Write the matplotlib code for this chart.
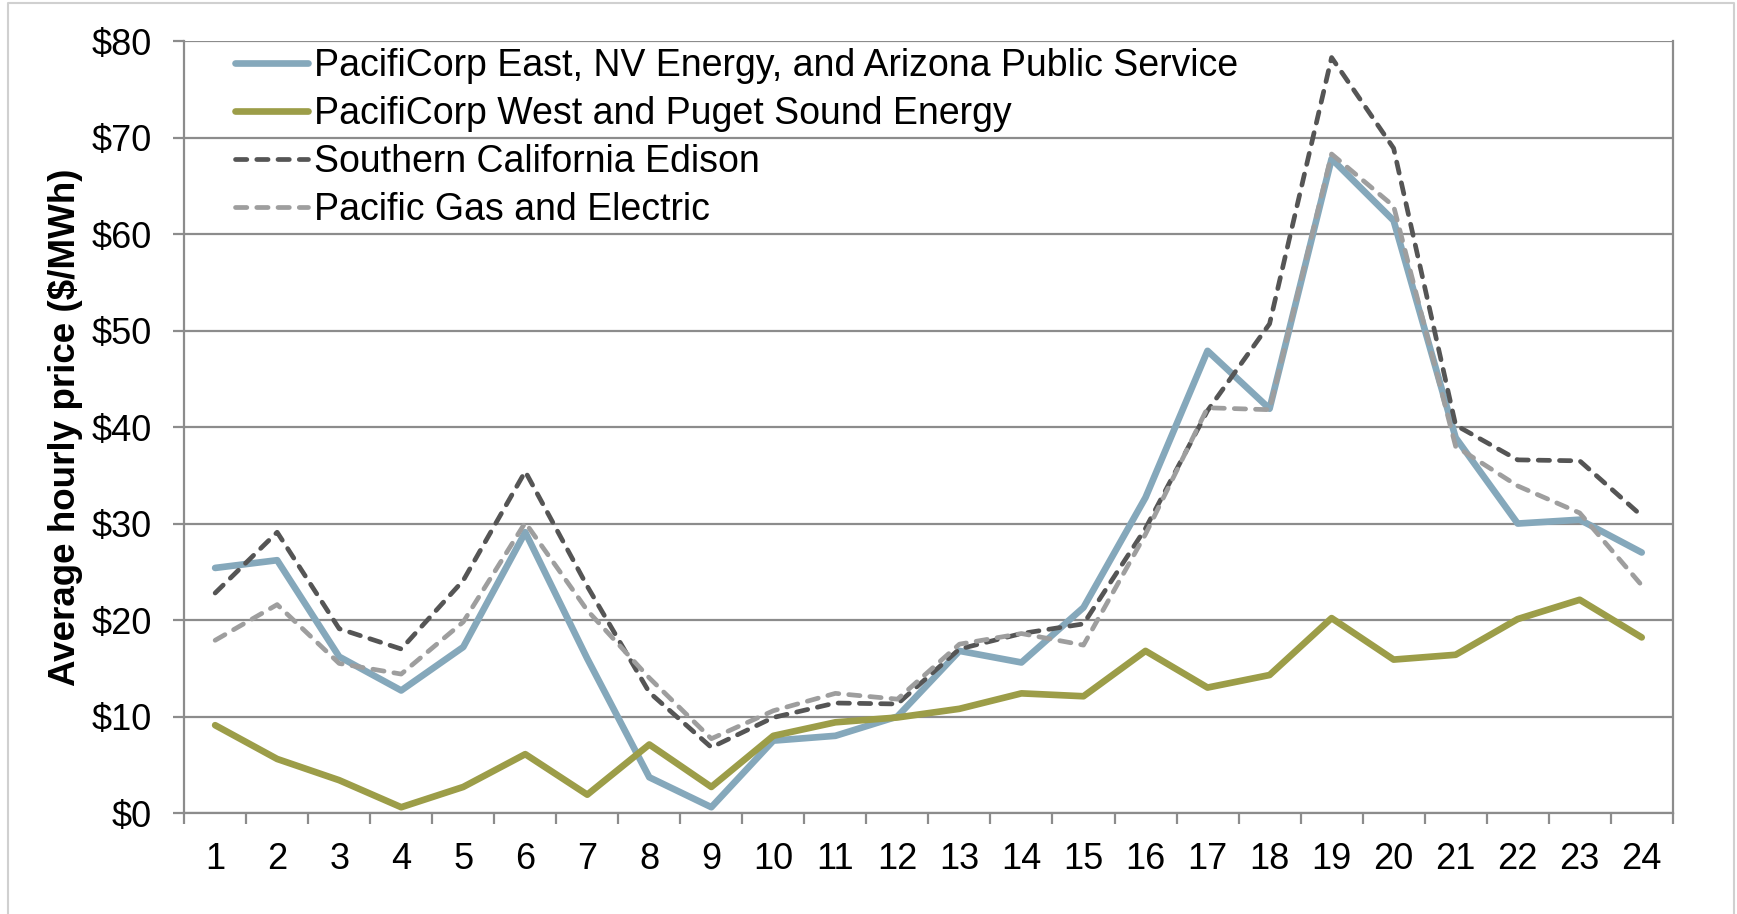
import matplotlib
matplotlib.use("Agg")
import matplotlib.pyplot as plt
from matplotlib.lines import Line2D

hours = list(range(1, 25))
pac_east = [25.4, 26.2, 16.2, 12.7, 17.2, 29.1, 16.0, 3.7, 0.6, 7.5, 8.0, 10.0,
            16.8, 15.6, 21.3, 32.7, 47.9, 41.9, 67.8, 61.4, 38.9, 30.0, 30.4, 27.0]
pac_west = [9.1, 5.6, 3.4, 0.6, 2.7, 6.1, 1.9, 7.1, 2.7, 8.0, 9.4, 9.9,
            10.8, 12.4, 12.1, 16.8, 13.0, 14.3, 20.2, 15.9, 16.4, 20.1, 22.1, 18.2]
sce = [22.8, 29.1, 19.1, 17.0, 24.1, 35.4, 23.5, 12.5, 6.8, 9.9, 11.4, 11.3,
       17.0, 18.6, 19.6, 29.5, 41.7, 50.7, 78.3, 68.9, 40.2, 36.6, 36.5, 30.8]
pge = [17.9, 21.6, 15.5, 14.4, 19.8, 30.1, 21.0, 14.0, 7.7, 10.6, 12.4, 11.8,
       17.5, 18.6, 17.4, 28.9, 42.0, 41.8, 68.3, 62.9, 38.0, 33.9, 31.1, 23.6]
labels = ["PacifiCorp East, NV Energy, and Arizona Public Service",
          "PacifiCorp West and Puget Sound Energy",
          "Southern California Edison",
          "Pacific Gas and Electric"]
yticks = [0, 10, 20, 30, 40, 50, 60, 70, 80]
ylabel = "Average hourly price ($/MWh)"

plt.rcParams['font.family'] = ['Liberation Sans', 'DejaVu Sans']

fig = plt.figure(figsize=(17.37, 9.14), dpi=100)
border_c = '#d0d0d0'
fig.add_artist(Line2D([0.0045, 0.0045, 0.9985, 0.9985], [0.0, 0.9965, 0.9965, 0.0],
                      transform=fig.transFigure, color=border_c, linewidth=1.5))
ax = fig.add_axes([0.106, 0.1105, 0.857, 0.8445])

grid_c = '#8c8c8c'
for v in yticks:
    ax.axhline(v, color=grid_c, linewidth=1.6, zorder=1)

ax.plot(hours, pac_east, color='#85a8bb', linewidth=4.8, label=labels[0],
        solid_capstyle='round', solid_joinstyle='round', zorder=3)
ax.plot(hours, pac_west, color='#9c9d48', linewidth=4.8, label=labels[1],
        solid_capstyle='round', solid_joinstyle='round', zorder=3)
ax.plot(hours, sce, color='#555555', linewidth=3.4, linestyle=(0, (2.4, 2.1)),
        label=labels[2], dash_capstyle='round', zorder=4)
ax.plot(hours, pge, color='#9e9e9e', linewidth=3.4, linestyle=(0, (2.4, 2.1)),
        label=labels[3], dash_capstyle='round', zorder=4)

ax.set_xlim(0.5, 24.5)
ax.set_ylim(0, 80)
ax.set_yticks(yticks)
ax.set_yticklabels([f"${v}" for v in yticks])
ax.set_xticks(hours)
ax.set_xticklabels([str(h) for h in hours])
ax.set_xticks([h + 0.5 for h in range(0, 25)], minor=True)

ax.spines['top'].set_visible(False)
for s in ['left', 'bottom', 'right']:
    ax.spines[s].set_color(grid_c)
    ax.spines[s].set_linewidth(1.6)

ax.tick_params(axis='y', which='major', length=8, width=1.6, color=grid_c,
               labelsize=26, pad=15)
ax.tick_params(axis='x', which='major', length=0, labelsize=26, pad=21)
ax.tick_params(axis='x', which='minor', length=8, width=1.6, color=grid_c)

ax.set_ylabel(ylabel, fontsize=26.5, fontweight='bold', labelpad=6)

leg = ax.legend(loc='upper left', bbox_to_anchor=(0.024, 1.010), frameon=False,
                fontsize=27, handlelength=1.95, handletextpad=0.16,
                labelspacing=0.32, borderaxespad=0.0)

fig.savefig("out.png", dpi=100)
